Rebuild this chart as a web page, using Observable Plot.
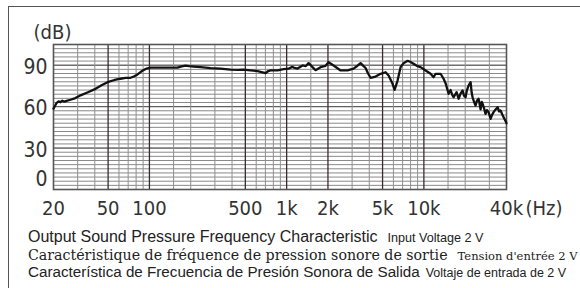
<!DOCTYPE html>
<html><head><meta charset="utf-8">
<script src="https://cdn.jsdelivr.net/npm/d3@7"></script>
<script src="https://cdn.jsdelivr.net/npm/@observablehq/plot@0.6"></script>
<style>
html,body{margin:0;padding:0;background:#fff;}
body{width:580px;height:288px;overflow:hidden;position:relative;}
#box{position:absolute;left:8px;top:6px;width:620px;height:320px;border:1.6px solid #555;box-sizing:border-box;}
#chart{position:absolute;left:0;top:0;}
.cap{position:absolute;left:28px;white-space:nowrap;color:#222;line-height:16px;}
.sans{font-family:"Liberation Sans",Arial,sans-serif;}
.serif{font-family:"DejaVu Serif",serif;}
</style>
</head><body>
<div id="box"></div>
<div id="chart"></div>
<div class="cap sans" style="top:229px;font-size:16px;">Output Sound Pressure Frequency Characteristic<span style="font-size:12.6px;margin-left:10px;">Input Voltage 2 V</span></div>
<div class="cap serif" style="top:247px;font-size:14.2px;">Caractéristique de fréquence de pression sonore de sortie<span style="font-size:11.5px;margin-left:10px;">Tension d'entrée 2 V</span></div>
<div class="cap sans" style="top:264px;font-size:15.2px;">Característica de Frecuencia de Presión Sonora de Salida<span style="font-size:12.5px;margin-left:6px;">Voltaje de entrada de 2 V</span></div>
<script>
// Frequency response (Hz, dB)
const freqHz = [20,20.5,21,21.8,22.5,23.2,24,24.9,26.6,28.9,31.5,36,40.5,44.8,49.5,55.7,61.6,67,72.8,77,81.9,87.6,95.3,102,120,143,160,172,183,195,210,236,279,330,390,440,485,546,614,680,702,735,763,859,949,1032,1100,1123,1201,1306,1380,1444,1500,1544,1624,1766,1920,2020,2198,2472,2780,3074,3300,3457,3620,3760,3920,4088,4446,4836,5260,5530,5914,6116,6432,6764,7112,7608,8000,8412,9000,9460,10290,11190,11768,12170,13234,13918,14392,15136,15654,16100,16464,17312,17906,18516,19146,19600,20134,20600,21174,21900,22300,22640,23200,23812,24400,25040,25894,26400,26780,27500,28160,28800,29620,30620,31400,32212,33320,34454,35300,36226,37200,38100,39400,40000];
const levelDb = [58.6,60.5,62.5,63.8,63.2,64.3,63.6,64.2,65,66.2,68.2,70.6,72.9,75.5,77.7,79.3,80.2,80.8,80.9,81.8,83.3,85.6,87.6,88.2,88.3,88.2,88.2,89.2,89.7,89.3,89.0,88.6,87.9,87.5,86.8,86.6,86.8,86.3,85.7,84.6,84.2,85.8,86.2,86.2,87.1,87.5,88.8,88.3,87.6,89.8,89.4,91.5,90,88.6,86.4,88.6,89.6,92.2,89.8,86.2,86.3,87.5,89.8,91.5,89.5,88,84,80.9,81.8,83.8,84.9,82.5,76.5,72.2,78.9,88.6,91.5,93.2,92.3,91.1,89.3,88.6,86.2,83.8,81.3,83.8,83.8,80.2,77,69.3,72,68.5,66.8,70.5,65.7,69.5,71.7,68,66.8,72,75.3,77.7,70,66.8,63.5,60.8,64.5,65.7,58,63.5,62.1,58.5,54.8,57.5,56,51.2,54,56,58,59.6,56.5,57.2,54.5,52.4,49.5,48];

const xTickValues = [20,50,100,500,1000,2000,5000,10000,40000];
const xTickLabels = ["20","50","100","500","1k","2k","5k","10k","40k"];
const yTickValues = [30,60,90];
const yTickLabels = ["30","60","90"];
const gridMajorHz = [50,100,500,1000,2000,5000,10000];
const gridMinorHz = [30,40,60,70,80,90,150,200,300,400,600,700,800,900,1500,3000,4000,6000,7000,8000,9000,15000,20000,30000];
const gridDb = d3.range(3, 105, 3);

const data = freqHz.map((f,i)=>({f, db: levelDb[i]}));
const xTicks = xTickValues.map((v,i)=>({v, label: xTickLabels[i]}));
const yTicks = yTickValues.map((v,i)=>({v, label: yTickLabels[i]}));

const axisFont = '"Liberation Sans Narrow","DejaVu Sans Condensed","Roboto Condensed",Roboto,sans-serif';

const chart = Plot.plot({
  width: 580, height: 220,
  marginLeft: 53, marginRight: 74, marginTop: 44, marginBottom: 31,
  x: {type: "log", domain: [20, 40000], axis: null},
  y: {domain: [0, 105], axis: null},
  style: {background: "transparent", fontFamily: axisFont, color: "#333"},
  marks: [
    Plot.ruleY(gridDb, {stroke: "#8a8a8a", strokeWidth: 1}),
    Plot.ruleY([30,60,90], {stroke: "#555", strokeWidth: 1}),
    Plot.ruleX(gridMinorHz, {stroke: "#8f8f8f", strokeWidth: 1}),
    Plot.ruleX(gridMajorHz, {stroke: "#3a2c2c", strokeWidth: 1.3}),
    Plot.frame({stroke: "#555", strokeWidth: 1.6}),
    Plot.line(data, {x: "f", y: "db", stroke: "#111", strokeWidth: 2.3, strokeLinejoin: "round"}),
    Plot.text(xTicks, {x: "v", text: "label", frameAnchor: "bottom", lineAnchor: "middle", dy: 19, fontSize: 20, fill: "#333"}),
    Plot.text(["(Hz)"], {text: d => d, frameAnchor: "bottom-right", lineAnchor: "middle", textAnchor: "start", dx: 19, dy: 19, fontSize: 20, fill: "#333"}),
    Plot.text(yTicks, {y: "v", text: "label", frameAnchor: "left", lineAnchor: "middle", textAnchor: "end", dx: -6, dy: 2, fontSize: 21, fill: "#333"}),
    Plot.text(["0"], {text: d => d, frameAnchor: "bottom-left", lineAnchor: "middle", textAnchor: "end", dx: -6, dy: -10, fontSize: 21, fill: "#333"}),
    Plot.text(["(dB)"], {text: d => d, frameAnchor: "top-left", lineAnchor: "middle", textAnchor: "middle", dx: -1, dy: -12, fontSize: 20, fill: "#333"})
  ]
});
document.getElementById("chart").appendChild(chart);
</script>
</body></html>
